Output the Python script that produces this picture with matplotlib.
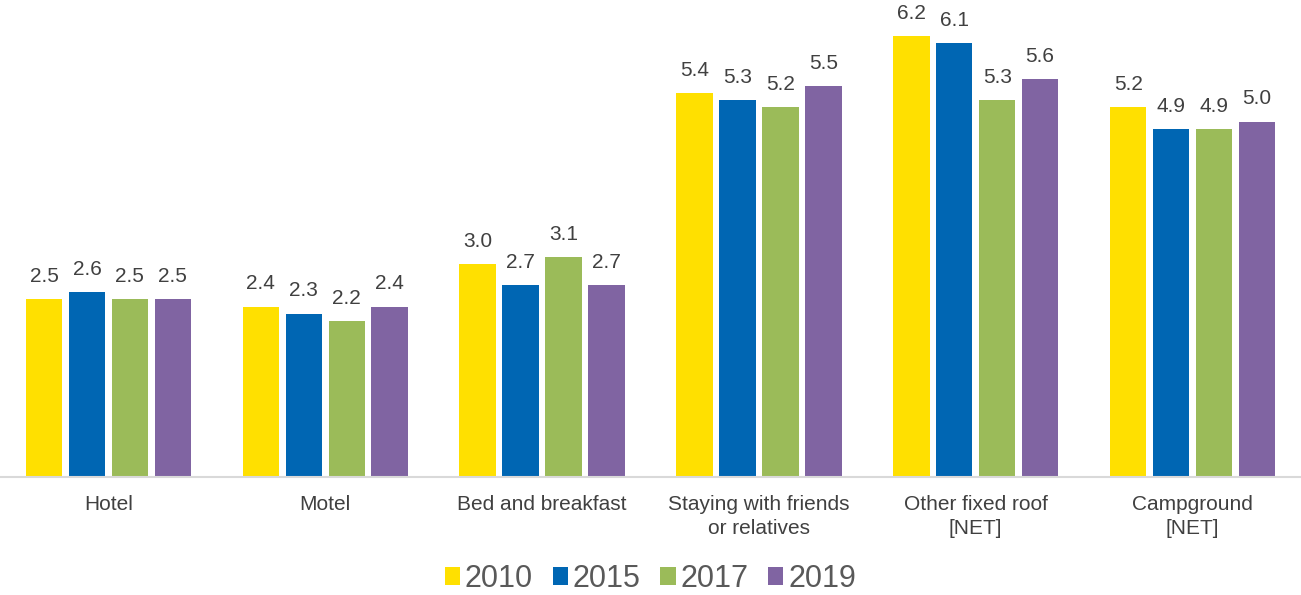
import matplotlib.pyplot as plt
import numpy as np

plt.rcParams['font.family'] = ['Liberation Sans', 'DejaVu Sans']

categories = ["Hotel", "Motel", "Bed and breakfast", "Staying with friends\nor relatives",
              "Other fixed roof\n[NET]", "Campground\n[NET]"]
years = ["2010", "2015", "2017", "2019"]
v2010 = [2.5, 2.4, 3.0, 5.4, 6.2, 5.2]
v2015 = [2.6, 2.3, 2.7, 5.3, 6.1, 4.9]
v2017 = [2.5, 2.2, 3.1, 5.2, 5.3, 4.9]
v2019 = [2.5, 2.4, 2.7, 5.5, 5.6, 5.0]
series = [v2010, v2015, v2017, v2019]
colors = ["#FFE000", "#0066B3", "#9BBB59", "#8064A2"]

fig = plt.figure(figsize=(13.01, 5.95), dpi=100)
ax = fig.add_axes([0.0, 0.198, 1.0, 0.802])

x = np.arange(len(categories))
step = 0.198
offsets = (np.arange(4) - 1.5) * step
for vals, off, col, yr in zip(series, offsets, colors, years):
    bars = ax.bar(x + off, vals, width=0.168, color=col, linewidth=0,
                  label=yr, zorder=2)
    for b, v in zip(bars, vals):
        ax.annotate(f"{v:.1f}", (b.get_x() + b.get_width() / 2, v),
                    xytext=(0, 9.5), textcoords="offset points",
                    ha="center", va="bottom", fontsize=15, color="#404040")

ax.set_xlim(-0.5, len(categories) - 0.5)
ax.set_ylim(0, 6.71)
for s in ["top", "right", "left"]:
    ax.spines[s].set_visible(False)
ax.spines["bottom"].set_color("#D9D9D9")
ax.spines["bottom"].set_linewidth(1.5)
ax.set_yticks([])
ax.set_xticks(x)
ax.set_xticklabels(categories, fontsize=15, color="#404040", linespacing=1.35)
ax.tick_params(axis="x", length=0, pad=13)

leg = fig.legend(loc="center", bbox_to_anchor=(0.5, 0.027), ncol=4, frameon=False,
                 fontsize=22, handlelength=0.5, handleheight=0.5,
                 handletextpad=0.15, columnspacing=0.65, labelcolor="#595959")

fig.savefig("out.png", dpi=100)
